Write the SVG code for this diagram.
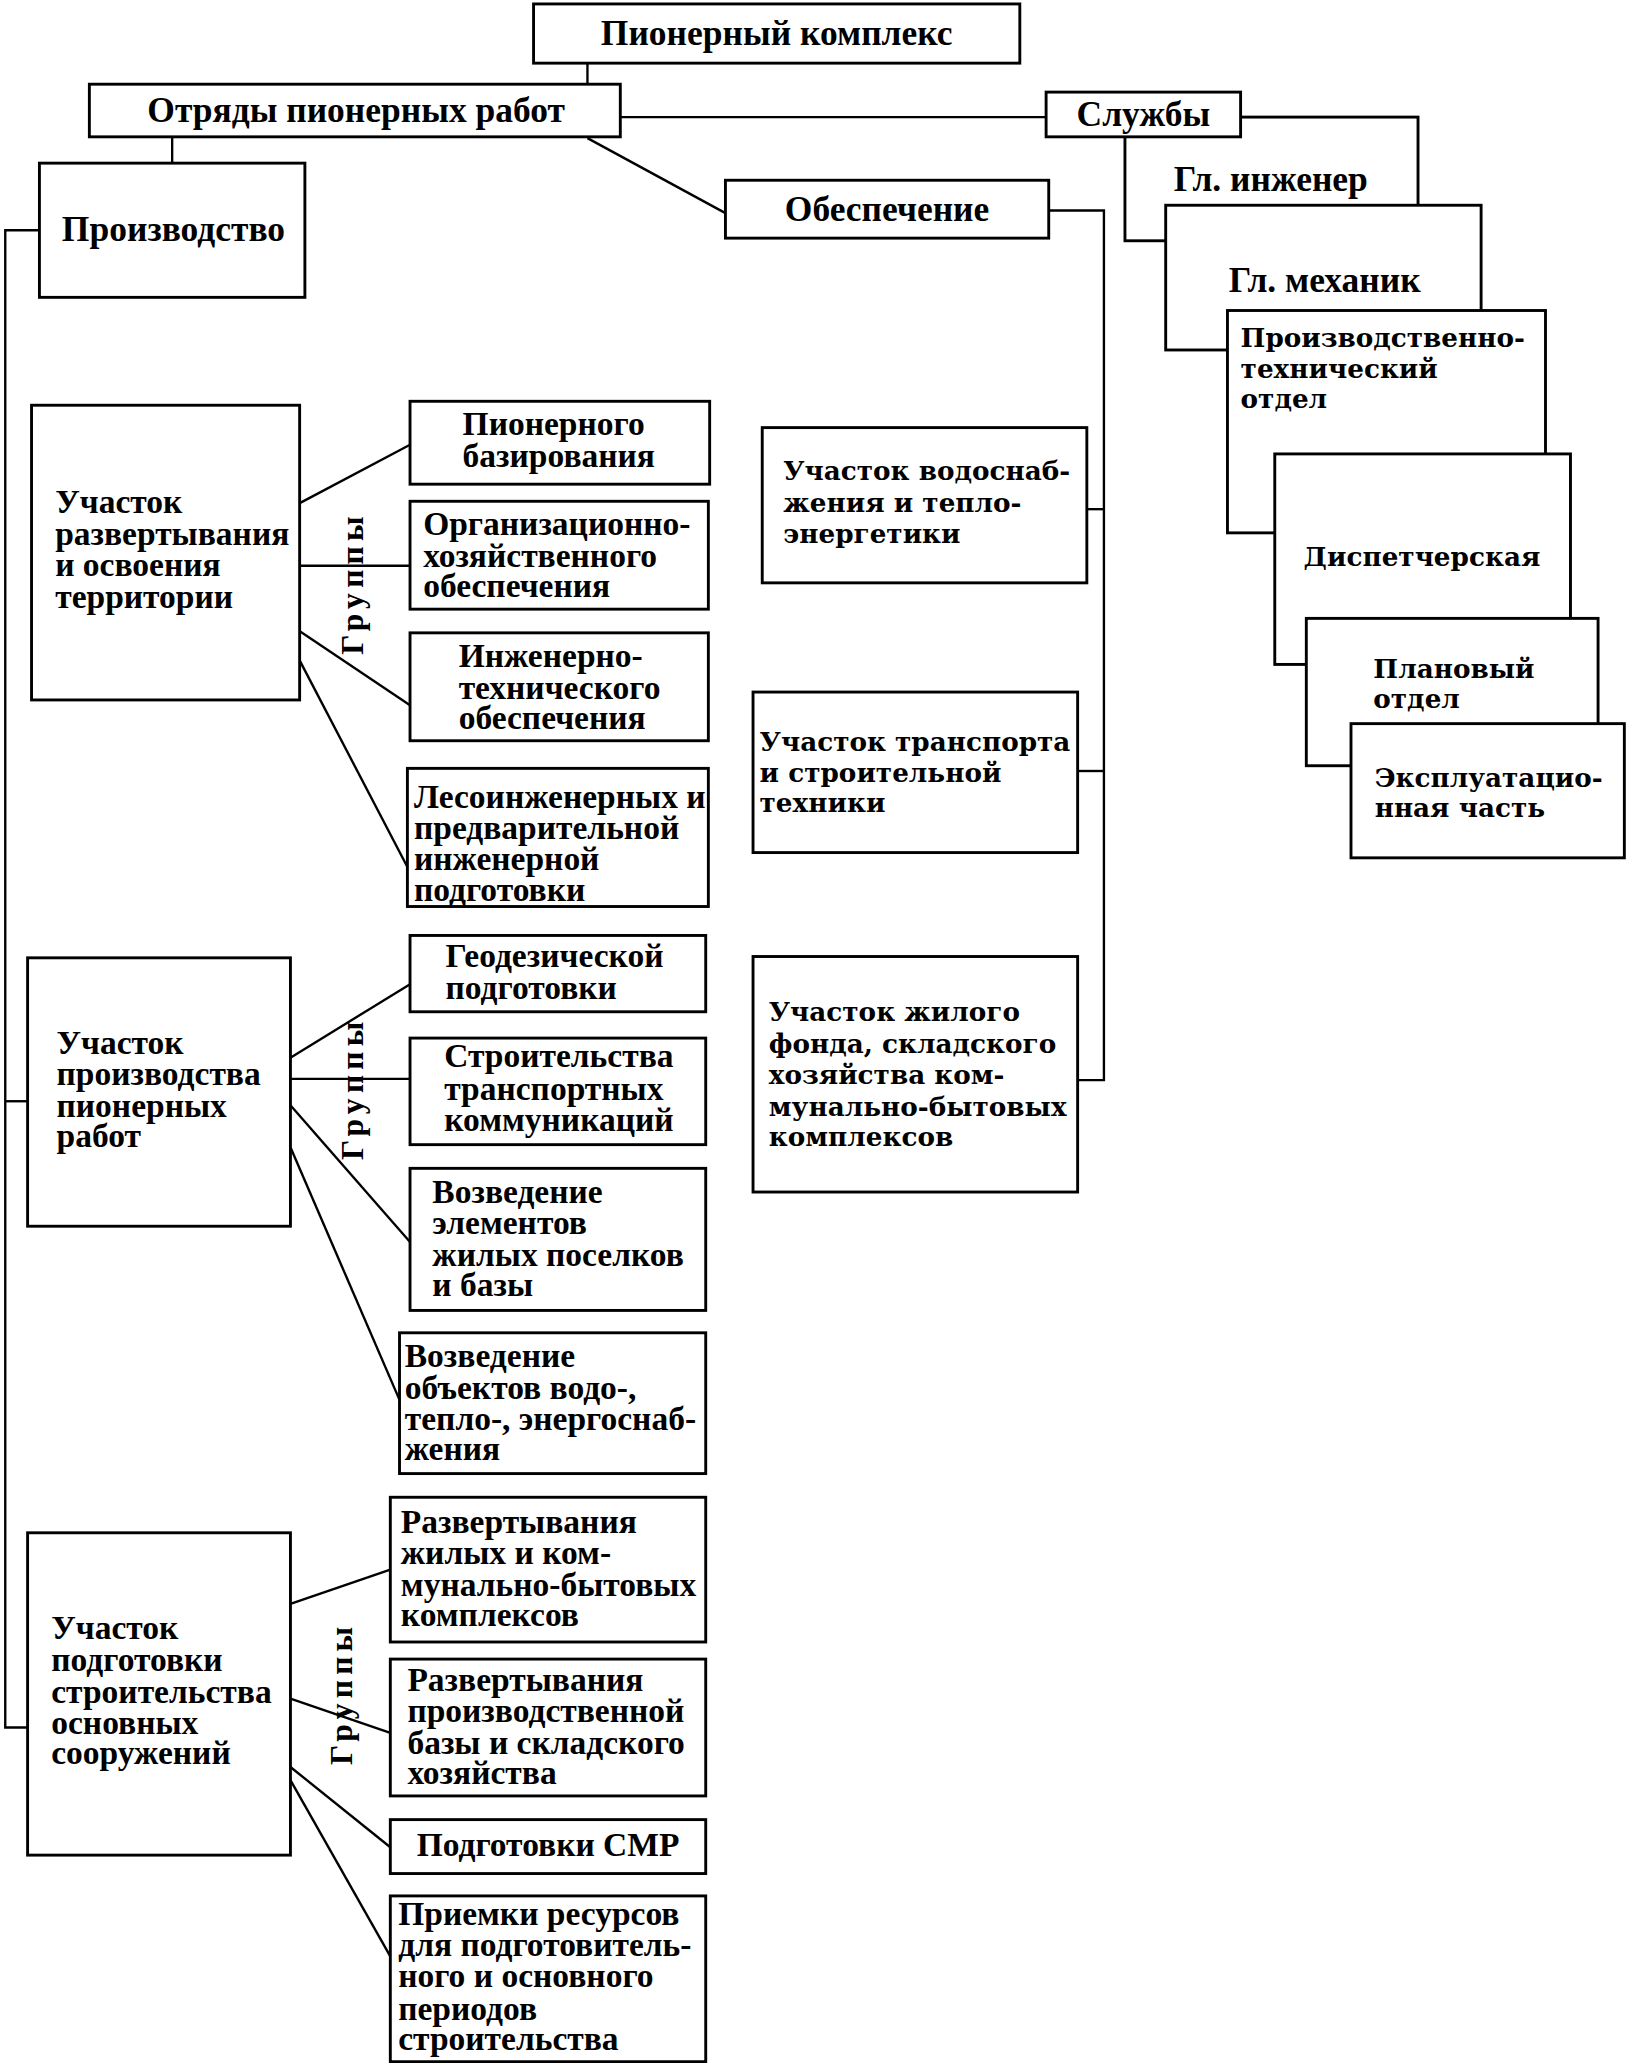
<svg xmlns="http://www.w3.org/2000/svg" width="1627" height="2063" viewBox="0 0 1627 2063">
<style>
.b{fill:#fff;stroke:#000;stroke-width:2.2}
.c{fill:none;stroke:#000;stroke-width:1.8}
.t{font-family:"Liberation Serif","Times New Roman",serif;font-weight:bold;font-size:25.5px;fill:#000}
.h{font-size:27px}
.w{font-family:"DejaVu Serif","Liberation Serif",serif;font-weight:bold;font-size:20px;fill:#000}
.m{text-anchor:middle}
.g{font-family:"Liberation Serif","Times New Roman",serif;font-weight:bold;font-size:24px;letter-spacing:4px;fill:#000}
</style>
<rect width="1627" height="2063" fill="#fff"/>
<g transform="scale(1.3142 1.3157)">
<g id="connectors" class="c">
<path d="M447 48V65"/>
<path d="M472 89H796"/>
<path d="M131 104V124"/>
<path d="M447 105L552 162"/>
<path d="M30 175H4V1313H21"/>
<path d="M4 837H21"/>
<path d="M798 160H840V821H820"/>
<path d="M827 387H840"/>
<path d="M820 586H840"/>
<path d="M227 383L312 338"/>
<path d="M227 430H312"/>
<path d="M227 479L312 536"/>
<path d="M227 500L310 659"/>
<path d="M221 804L312 748"/>
<path d="M221 820H312"/>
<path d="M221 840L312 944"/>
<path d="M221 872L304 1064"/>
<path d="M221 1219L297 1193"/>
<path d="M221 1291L297 1317"/>
<path d="M221 1343L297 1404"/>
<path d="M221 1353L297 1487"/>
</g>
<g id="n-pk"><rect class="b" x="406" y="3" width="370" height="45"/><text class="t h m" x="591" y="34">Пионерный комплекс</text></g>
<g id="n-otr"><rect class="b" x="68" y="64" width="404" height="40"/><text class="t h m" x="271" y="93">Отряды пионерных работ</text></g>
<g id="n-gi"><rect class="b" x="856" y="89" width="223" height="94"/><text class="t h m" x="967" y="145">Гл. инженер</text></g>
<g id="n-sl"><rect class="b" x="796" y="70" width="148" height="34"/><text class="t h m" x="870" y="96">Службы</text></g>
<g id="n-gm"><rect class="b" x="887" y="156" width="240" height="110"/><text class="t h m" x="1008" y="222">Гл. механик</text></g>
<g id="n-pto"><rect class="b" x="934" y="236" width="242" height="169"/><text class="w"><tspan x="944" y="264">Производственно-</tspan><tspan x="944" y="287">технический</tspan><tspan x="944" y="310">отдел</tspan></text></g>
<g id="n-disp"><rect class="b" x="970" y="345" width="225" height="160"/><text class="w m" x="1082" y="430">Диспетчерская</text></g>
<g id="n-plan"><rect class="b" x="994" y="470" width="222" height="112"/><text class="w"><tspan x="1045" y="515">Плановый</tspan><tspan x="1045" y="538">отдел</tspan></text></g>
<g id="n-expl"><rect class="b" x="1028" y="550" width="208" height="102"/><text class="w"><tspan x="1046" y="598">Эксплуатацио-</tspan><tspan x="1046" y="621">нная часть</tspan></text></g>
<g id="n-proizv"><rect class="b" x="30" y="124" width="202" height="102"/><text class="t h m" x="132" y="183">Производство</text></g>
<g id="n-obesp"><rect class="b" x="552" y="137" width="246" height="44"/><text class="t h m" x="675" y="168">Обеспечение</text></g>
<g id="n-uv"><rect class="b" x="580" y="325" width="247" height="118"/><text class="w"><tspan x="596" y="365">Участок водоснаб-</tspan><tspan x="596" y="389">жения и тепло-</tspan><tspan x="596" y="413">энергетики</tspan></text></g>
<g id="n-ut"><rect class="b" x="573" y="526" width="247" height="122"/><text class="w"><tspan x="578" y="571">Участок транспорта</tspan><tspan x="578" y="594">и строительной</tspan><tspan x="578" y="617">техники</tspan></text></g>
<g id="n-uzh"><rect class="b" x="573" y="727" width="247" height="179"/><text class="w"><tspan x="585" y="776">Участок жилого</tspan><tspan x="585" y="800">фонда, складского</tspan><tspan x="585" y="824">хозяйства ком-</tspan><tspan x="585" y="848">мунально-бытовых</tspan><tspan x="585" y="871">комплексов</tspan></text></g>
<g id="n-ur"><rect class="b" x="24" y="308" width="204" height="224"/><text class="t"><tspan x="42" y="390">Участок</tspan><tspan x="42" y="414">развертывания</tspan><tspan x="42" y="438">и освоения</tspan><tspan x="42" y="462">территории</tspan></text></g>
<g id="n-g1"><rect class="b" x="312" y="305" width="228" height="63"/><text class="t"><tspan x="352" y="331">Пионерного</tspan><tspan x="352" y="355">базирования</tspan></text></g>
<g id="n-g2"><rect class="b" x="312" y="381" width="227" height="82"/><text class="t"><tspan x="322" y="407">Организационно-</tspan><tspan x="322" y="431">хозяйственного</tspan><tspan x="322" y="454">обеспечения</tspan></text></g>
<g id="n-g3"><rect class="b" x="312" y="481" width="227" height="82"/><text class="t"><tspan x="349" y="507">Инженерно-</tspan><tspan x="349" y="531">технического</tspan><tspan x="349" y="554">обеспечения</tspan></text></g>
<g id="n-g4"><rect class="b" x="310" y="584" width="229" height="105"/><text class="t"><tspan x="315" y="614">Лесоинженерных и</tspan><tspan x="315" y="638">предварительной</tspan><tspan x="315" y="661">инженерной</tspan><tspan x="315" y="685">подготовки</tspan></text></g>
<g id="n-up"><rect class="b" x="21" y="728" width="200" height="204"/><text class="t"><tspan x="43" y="801">Участок</tspan><tspan x="43" y="825">производства</tspan><tspan x="43" y="849">пионерных</tspan><tspan x="43" y="872">работ</tspan></text></g>
<g id="n-g5"><rect class="b" x="312" y="711" width="225" height="58"/><text class="t"><tspan x="339" y="735">Геодезической</tspan><tspan x="339" y="759">подготовки</tspan></text></g>
<g id="n-g6"><rect class="b" x="312" y="789" width="225" height="81"/><text class="t"><tspan x="338" y="811">Строительства</tspan><tspan x="338" y="836">транспортных</tspan><tspan x="338" y="860">коммуникаций</tspan></text></g>
<g id="n-g7"><rect class="b" x="312" y="888" width="225" height="108"/><text class="t"><tspan x="329" y="914">Возведение</tspan><tspan x="329" y="938">элементов</tspan><tspan x="329" y="962">жилых поселков</tspan><tspan x="329" y="985">и базы</tspan></text></g>
<g id="n-g8"><rect class="b" x="304" y="1013" width="233" height="107"/><text class="t"><tspan x="308" y="1039">Возведение</tspan><tspan x="308" y="1063">объектов водо-,</tspan><tspan x="308" y="1087">тепло-, энергоснаб-</tspan><tspan x="308" y="1110">жения</tspan></text></g>
<g id="n-ups"><rect class="b" x="21" y="1165" width="200" height="245"/><text class="t"><tspan x="39" y="1246">Участок</tspan><tspan x="39" y="1270">подготовки</tspan><tspan x="39" y="1294">строительства</tspan><tspan x="39" y="1318">основных</tspan><tspan x="39" y="1341">сооружений</tspan></text></g>
<g id="n-g9"><rect class="b" x="297" y="1138" width="240" height="110"/><text class="t"><tspan x="305" y="1165">Развертывания</tspan><tspan x="305" y="1189">жилых и ком-</tspan><tspan x="305" y="1213">мунально-бытовых</tspan><tspan x="305" y="1236">комплексов</tspan></text></g>
<g id="n-g10"><rect class="b" x="297" y="1261" width="240" height="104"/><text class="t"><tspan x="310" y="1285">Развертывания</tspan><tspan x="310" y="1309">производственной</tspan><tspan x="310" y="1333">базы и складского</tspan><tspan x="310" y="1356">хозяйства</tspan></text></g>
<g id="n-g11"><rect class="b" x="297" y="1383" width="240" height="41"/><text class="t m" x="417" y="1411" font-size="26.5">Подготовки СМР</text></g>
<g id="n-g12"><rect class="b" x="297" y="1441" width="240" height="126"/><text class="t"><tspan x="303" y="1463">Приемки ресурсов</tspan><tspan x="303" y="1487">для подготовитель-</tspan><tspan x="303" y="1510">ного и основного</tspan><tspan x="303" y="1535">периодов</tspan><tspan x="303" y="1558">строительства</tspan></text></g>
<g id="labels">
<text class="g m" transform="translate(276 443) rotate(-90)">Группы</text>
<text class="g m" transform="translate(276 827) rotate(-90)">Группы</text>
<text class="g m" transform="translate(268 1287) rotate(-90)">Группы</text>
</g>
</g>
</svg>
